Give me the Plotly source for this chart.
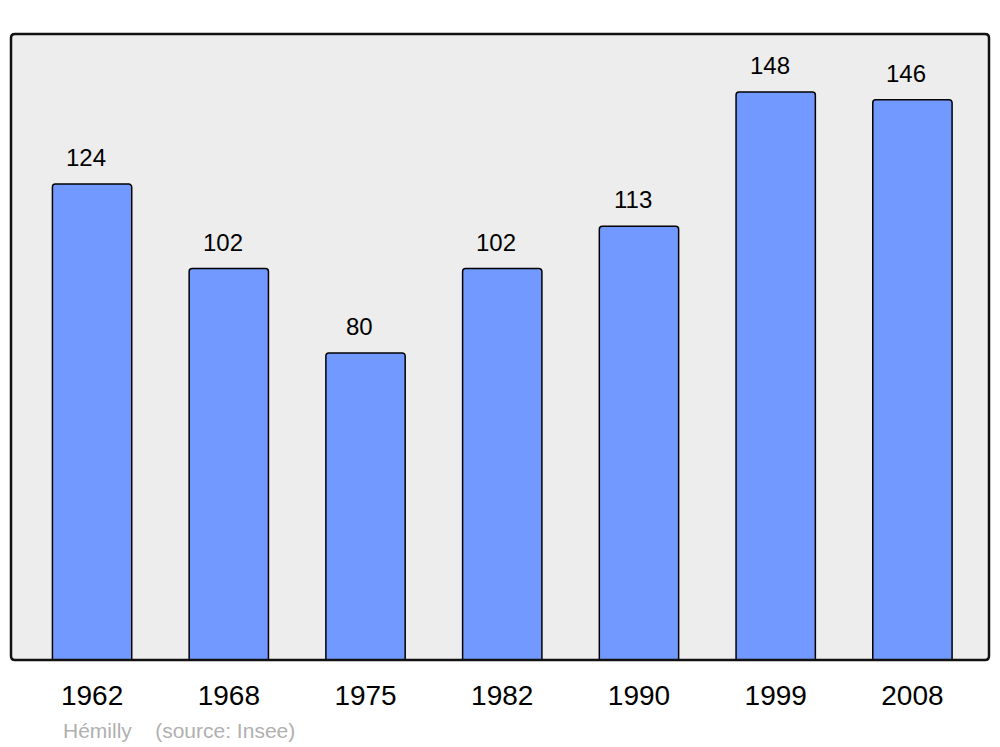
import plotly.graph_objects as go

years = ['1962', '1968', '1975', '1982', '1990', '1999', '2008']
population = [124, 102, 80, 102, 113, 148, 146]
positions = list(range(len(years)))

fig = go.Figure()
fig.add_trace(go.Bar(
    x=positions, y=population, width=0.58,
    marker=dict(color='#7299FF', line=dict(color='black', width=1.5), cornerradius=3),
    hoverinfo='x+y',
))

for xp, val in zip(positions, population):
    fig.add_annotation(x=xp, y=val, text=str(val), showarrow=False,
                       yanchor='bottom', yshift=11, xshift=-6,
                       font=dict(family='Liberation Sans, Arial', size=24, color='black'))

fig.add_annotation(xref='paper', yref='paper', x=0.051, y=-0.112, xanchor='left', yanchor='middle',
                   text='Hémilly &nbsp;&nbsp; (source: Insee)', showarrow=False,
                   font=dict(family='Liberation Sans, Arial', size=21, color='#b0b0b0'))

# rounded frame around plot area
rx, ry = 4 / 978, 4 / 626
frame = (f'M {rx},0 L {1 - rx},0 Q 1,0 1,{ry} L 1,{1 - ry} Q 1,1 {1 - rx},1 '
         f'L {rx},1 Q 0,1 0,{1 - ry} L 0,{ry} Q 0,0 {rx},0 Z')
fig.add_shape(type='path', xref='paper', yref='paper', path=frame,
              line=dict(color='#111111', width=2.5), layer='above')

fig.update_layout(
    width=1000, height=747,
    margin=dict(l=11, r=11, t=34, b=87),
    paper_bgcolor='white', plot_bgcolor='#EDEDED',
    showlegend=False,
    xaxis=dict(range=[-0.593, 6.56], tickvals=positions, ticktext=years,
               showgrid=False, zeroline=False, ticks='outside', ticklen=10,
               tickcolor='rgba(0,0,0,0)',
               tickfont=dict(family='Liberation Sans, Arial', size=28, color='black')),
    yaxis=dict(range=[0, 163.1], showgrid=False, zeroline=False, showticklabels=False),
)

fig.write_html('out.html', config={'displayModeBar': False},
               post_script="document.body.style.margin='0px';")
